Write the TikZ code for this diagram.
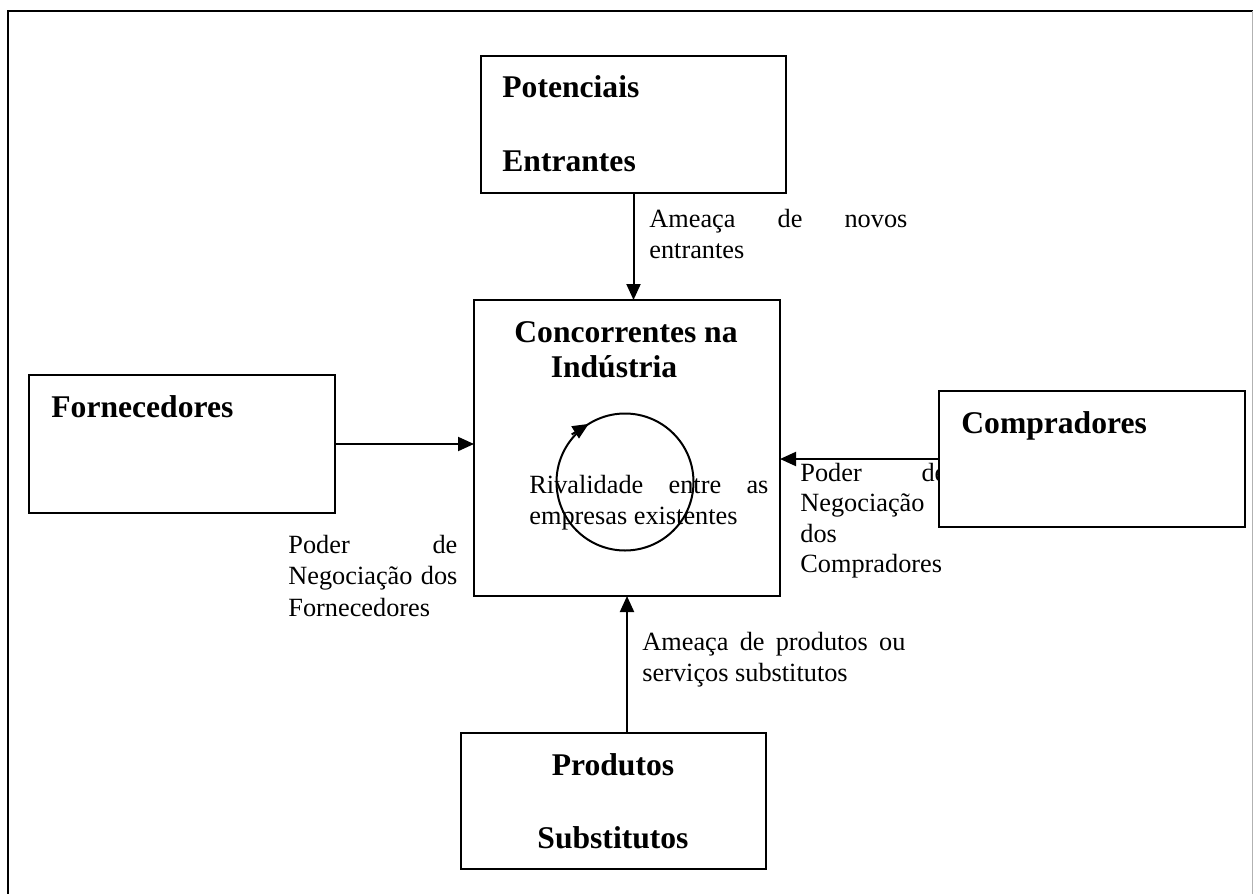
\documentclass[tikz,border=0pt]{standalone}
\usepackage{fontspec}
\setmainfont{Liberation Serif}
\usetikzlibrary{arrows.meta}
\begin{document}
\begin{tikzpicture}[x=0.5pt,y=-0.5pt,
  box/.style={draw, line width=1pt, fill=white, inner sep=0pt, outer sep=0pt, anchor=center},
  title/.style={font=\fontsize{15.8}{18}\selectfont\bfseries, inner sep=0pt, anchor=base west},
  ctitle/.style={title, anchor=base},
  lbl/.style={font=\fontsize{13.15}{15.5}\selectfont, inner sep=0pt, anchor=base west},
  force/.style={line width=1pt, -{Triangle[length=8pt,width=7pt]}}]
\useasboundingbox (0,0) rectangle (1253,894);

% page frame
\coordinate (fBL) at (8,894);
\coordinate (fTL) at (8,11);
\coordinate (fTR) at (1253,11);
\draw[line width=1.25pt] (fBL) -- (fTL) -- (fTR);
\coordinate (rT) at (1252.3,11);
\coordinate (rB) at (1252.3,894);
\draw[black!30, line width=0.5pt] (rT) -- (rB);

% buyers' label sits under the buyers' box
\node[lbl] (lcomp) at (800,481) {\vtop{\baselineskip=15.25pt
  \hbox{\makebox[73pt][s]{Poder de}}\hbox{Negociação}\hbox{dos}\hbox{Compradores}}};

% the five forces
\node[box, minimum width=152.5pt, minimum height=68.5pt] (pe) at (633.5,124.5) {};
\node[box, minimum width=153pt, minimum height=148pt] (cc) at (627,448) {};
\node[box, minimum width=153pt, minimum height=69pt] (fo) at (182,444) {};
\node[box, minimum width=153pt, minimum height=68pt] (co) at (1092,459) {};
\node[box, minimum width=152.5pt, minimum height=68pt] (ps) at (613.5,801) {};

% box titles
\node[title] (pe1) at (502,97) {Potenciais};
\node[title] (pe2) at (502,171) {Entrantes};
\node[ctitle] (cc1) at (626,342) {Concorrentes na};
\node[ctitle] (cc2) at (614,377) {Indústria};
\node[title] (fo1) at (51,417) {Fornecedores};
\node[title] (co1) at (961,433) {Compradores};
\node[ctitle] (ps1) at (613,775) {Produtos};
\node[ctitle] (ps2) at (613,848) {Substitutos};

% arrows into the industry box
\draw[force] (pe.south) -- (pe.south |- cc.north);
\draw[force] (fo.east) -- (fo.east -| cc.west);
\draw[force] (co.west) -- (co.west -| cc.east);
\draw[force] (cc.south |- ps.north) -- (cc.south);

% rivalry loop
\coordinate (rc) at (625,482);
\draw[line width=1pt] (rc) circle[radius=34.25pt];
\coordinate (ra) at (571.7,434.5);
\coordinate (rb) at (588.7,423.9);
\draw[force] (ra) -- (rb);

% force labels
\node[lbl] (lent) at (649,227) {\vtop{\baselineskip=15.5pt
  \hbox{\makebox[129pt][s]{Ameaça de novos}}\hbox{entrantes}}};
\node[lbl] (lforn) at (288,553) {\vtop{\baselineskip=15.75pt
  \hbox{\makebox[84.5pt][s]{Poder de}}\hbox{\makebox[84.5pt][s]{Negociação dos}}\hbox{Fornecedores}}};
\node[lbl] (lriv) at (529,493) {\vtop{\baselineskip=15.5pt
  \hbox{\makebox[119.5pt][s]{Rivalidade entre as}}\hbox{empresas existentes}}};
\node[lbl] (lsub) at (642,650) {\vtop{\baselineskip=15.5pt
  \hbox{\makebox[131.5pt][s]{Ameaça de produtos ou}}\hbox{serviços substitutos}}};
\end{tikzpicture}
\end{document}
